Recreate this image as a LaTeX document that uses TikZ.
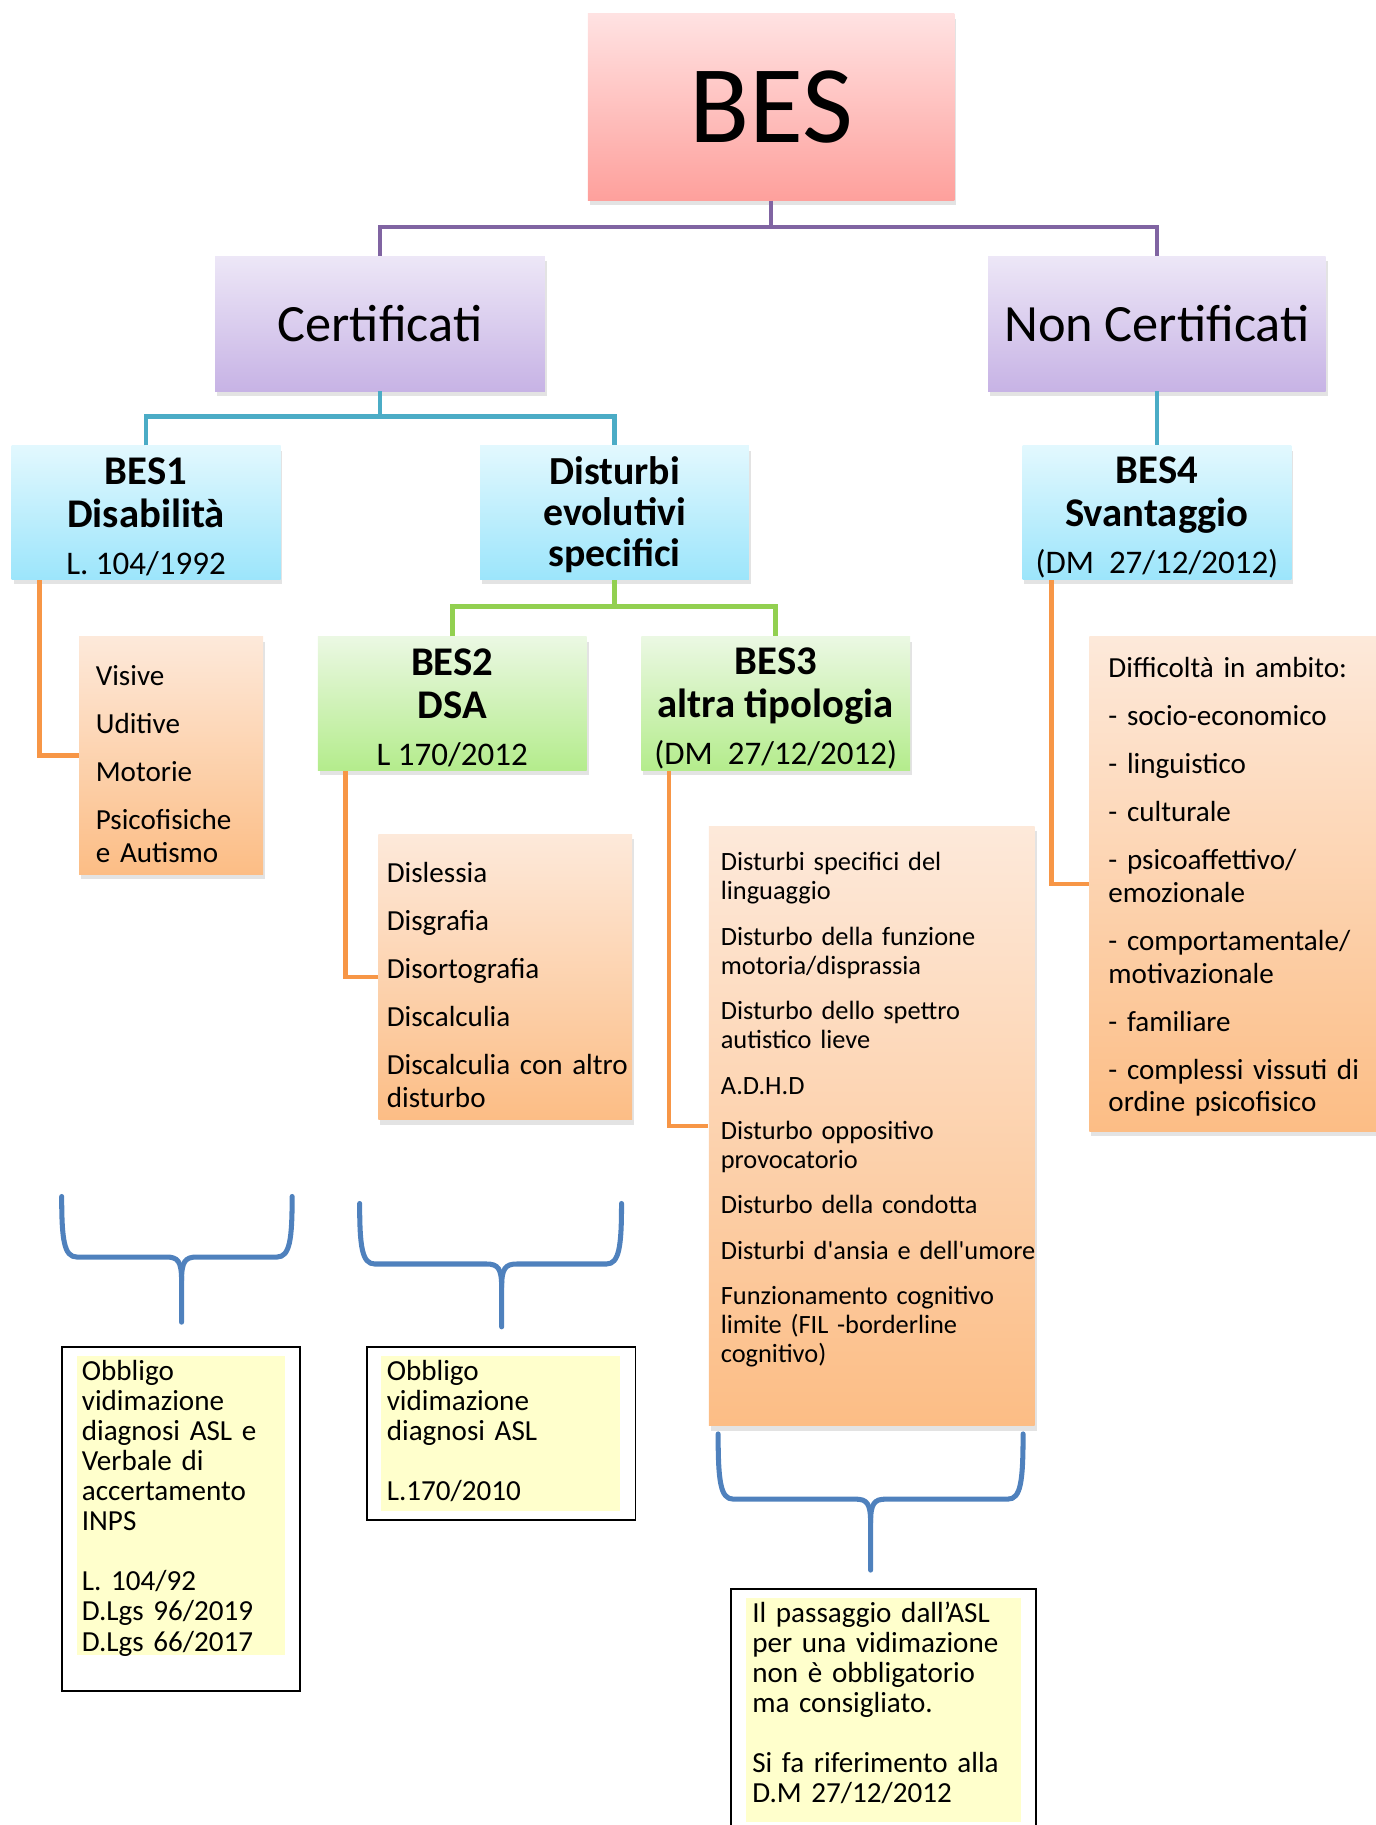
\documentclass[tikz,border=0pt]{standalone}
\usepackage{fontspec}
\setmainfont{Carlito}
\usetikzlibrary{positioning,calc,shadows}

\definecolor{pinktop}{RGB}{255,226,226}
\definecolor{pinkbot}{RGB}{254,160,156}
\definecolor{liltop}{RGB}{237,231,247}
\definecolor{lilbot}{RGB}{199,179,229}
\definecolor{bluetop}{RGB}{226,248,254}
\definecolor{bluebot}{RGB}{156,229,251}
\definecolor{greentop}{RGB}{235,248,227}
\definecolor{greenbot}{RGB}{180,236,140}
\definecolor{orantop}{RGB}{253,233,218}
\definecolor{oranbot}{RGB}{252,189,133}
\definecolor{notecol}{RGB}{255,255,204}
\definecolor{purpleline}{RGB}{128,100,162}
\definecolor{tealline}{RGB}{75,172,198}
\definecolor{greenline}{RGB}{146,208,80}
\definecolor{orangeline}{RGB}{247,150,70}
\definecolor{braceblue}{RGB}{79,129,189}

\newcommand{\topstrut}{\rule{0pt}{18.3pt}}

\tikzset{
  box/.style={rectangle, inner sep=0pt, align=center,
    drop shadow={opacity=0.22, shadow xshift=1pt, shadow yshift=-2.5pt}},
  pinkbox/.style={box, top color=pinktop, bottom color=pinkbot},
  lilacbox/.style={box, top color=liltop, bottom color=lilbot,
    minimum height=69.6pt, font=\fontsize{27}{30}\selectfont},
  bluebox/.style={box, top color=bluetop, bottom color=bluebot,
    minimum width=138.6pt, minimum height=69pt, font=\fontsize{21}{22.2}\selectfont},
  greenbox/.style={box, top color=greentop, bottom color=greenbot,
    minimum width=138.6pt, minimum height=69pt, font=\fontsize{21}{22.2}\selectfont},
  listbox/.style={box, top color=orantop, bottom color=oranbot},
  listtext/.style={anchor=base west, inner sep=0pt, text width=200pt, align=left,
    font=\fontsize{15}{16.8}\selectfont},
  notebox/.style={rectangle, draw=black, line width=0.9pt, fill=white, inner sep=0pt},
  notefill/.style={rectangle, fill=notecol, inner sep=0pt},
  notetext/.style={anchor=base west, inner sep=0pt, text width=150pt, align=left,
    font=\fontsize{15}{15.5}\selectfont},
  link/.style={line width=2.4pt},
  curly/.style={draw=braceblue, line width=2.6pt, line cap=round, line join=round},
}

\begin{document}
\begin{tikzpicture}[x=0.6pt,y=-0.6pt]
  \useasboundingbox (0,0) rectangle (1182,1568);
  \clip (0,0) rectangle (1182,1568);

  % Top
  \node[pinkbox, minimum width=189pt, minimum height=96pt,
        font=\fontsize{57}{60}\selectfont] (bes) at (662.5,92) {BES};

  % Second level
  \node[lilacbox, minimum width=170pt] (cert) at (326.5,278) {Certificati};
  \node[lilacbox, minimum width=174pt] (noncert) at (994,278) {Non Certificati};

  % Third level
  \node[bluebox] (bes1) at (125.5,440.5)
    {\topstrut\textbf{BES1}\\\textbf{Disabilità}\\[2pt]{\fontsize{17}{20}\selectfont L. 104/1992}};
  \node[bluebox, font=\fontsize{20.5}{21}\selectfont\bfseries] (dist) at (528,440.5)
    {\rule{0pt}{16.2pt}Disturbi\\evolutivi\\specifici};
  \node[bluebox] (bes4) at (994,440.5)
    {\topstrut\textbf{BES4}\\\textbf{Svantaggio}\\[2pt]{\fontsize{17}{20}\selectfont (DM\ \ 27/12/2012)}};

  \node[greenbox] (bes2) at (388.5,604.5)
    {\topstrut\textbf{BES2}\\\textbf{DSA}\\[2pt]{\fontsize{17}{20}\selectfont L 170/2012}};
  \node[greenbox] (bes3) at (666.5,604.5)
    {\topstrut\textbf{BES3}\\\textbf{altra tipologia}\\[2pt]{\fontsize{17}{20}\selectfont (DM\ \ 27/12/2012)}};

  % Lists
  \node[listbox, minimum width=94.8pt, minimum height=122.4pt] (visive) at (147,649) {};
  \node[listtext] (visivetxt) at (82,589)
    {Visive\\[8pt]Uditive\\[8pt]Motorie\\[8pt]Psicofisiche\\e Autismo};

  \node[listbox, minimum width=130.8pt, minimum height=147pt] (dsa) at (434,839.5) {};
  \node[listtext] (dsatxt) at (332,758)
    {Dislessia\\[8pt]Disgrafia\\[8pt]Disortografia\\[8pt]Discalculia\\[8pt]Discalculia con altro\\disturbo};

  \node[listbox, minimum width=168pt, minimum height=309pt] (altri) at (749,967.5) {};
  \node[listtext, font=\fontsize{13.6}{15}\selectfont] (altritxt) at (619,748)
    {Disturbi specifici del\\linguaggio\\[8.4pt]Disturbo della funzione\\motoria/disprassia\\[8.4pt]%
     Disturbo dello spettro\\autistico lieve\\[8.4pt]A.D.H.D\\[8.4pt]Disturbo oppositivo\\provocatorio\\[8.4pt]%
     Disturbo della condotta\\[8.4pt]Disturbi d\textquotesingle ansia e dell\textquotesingle umore\\[8.4pt]%
     Funzionamento cognitivo\\limite (FIL -borderline\\cognitivo)};

  \node[listbox, minimum width=152.4pt, minimum height=255pt] (svant) at (1063,759.5) {};
  \node[listtext] (svanttxt) at (952,582)
    {Difficoltà in ambito:\\[8pt]- socio-economico\\[8pt]- linguistico\\[8pt]- culturale\\[8pt]%
     - psicoaffettivo/\\emozionale\\[8pt]- comportamentale/\\motivazionale\\[8pt]- familiare\\[8pt]%
     - complessi vissuti di\\ordine psicofisico};

  % Connectors
  \coordinate (jbes) at (662.5,195);
  \draw[link, purpleline] (bes.south) -- (jbes);
  \draw[link, purpleline] (cert.north) |- (jbes) -| (noncert.north);

  \coordinate (jcert) at (326.5,358);
  \draw[link, tealline] (cert.south) -- (jcert);
  \draw[link, tealline] (bes1.north) |- (jcert) -| (dist.north);
  \draw[link, tealline] (noncert.south) -- (bes4.north);

  \coordinate (jdist) at (528,521);
  \draw[link, greenline] (dist.south) -- (jdist);
  \draw[link, greenline] (bes2.north) |- (jdist) -| (bes3.north);

  \draw[link, orangeline] ($(bes1.south west)+(24,0)$) |- (visive.west);
  \draw[link, orangeline] ($(bes2.south west)+(24,0)$) |- (dsa.west);
  \draw[link, orangeline] ($(bes3.south west)+(24,0)$) |- (altri.west);
  \draw[link, orangeline] ($(bes4.south west)+(25,0)$) |- (svant.west);

  % Braces
  \foreach \xl/\xm/\xr/\yt/\yh/\yb in {53/156/251/1028/1080/1136,
                                       309/431/534/1034/1086/1140,
                                       617/748/879/1232/1288/1349} {
    \draw[curly] (\xl,\yt) .. controls (\xl,\yh-15) and (\xl+2,\yh) .. (\xl+13,\yh)
      -- (\xm-13,\yh) .. controls (\xm-3,\yh) and (\xm,\yh+4) .. (\xm,\yh+20) -- (\xm,\yb);
    \draw[curly] (\xr,\yt) .. controls (\xr,\yh-15) and (\xr-2,\yh) .. (\xr-13,\yh)
      -- (\xm+13,\yh) .. controls (\xm+3,\yh) and (\xm,\yh+4) .. (\xm,\yh+20);
  }

  % Notes
  \node[notebox, minimum width=123pt, minimum height=177.6pt] (note1) at (155.5,1305) {};
  \node[notefill, minimum width=107.4pt, minimum height=154.2pt] (note1bg) at (155.5,1293.5) {};
  \node[notetext] (note1txt) at (70,1186)
    {Obbligo\\vidimazione\\diagnosi ASL e\\Verbale di\\accertamento\\INPS\\[15.5pt]L. 104/92\\D.Lgs 96/2019\\D.Lgs 66/2017};

  \node[notebox, minimum width=138.6pt, minimum height=89.4pt] (note2) at (430.5,1231.5) {};
  \node[notefill, minimum width=123.6pt, minimum height=79.8pt] (note2bg) at (430,1231.5) {};
  \node[notetext] (note2txt) at (332,1186)
    {Obbligo\\vidimazione\\diagnosi ASL\\[15.5pt]L.170/2010};

  \node[notebox, minimum width=157.2pt, minimum height=129pt] (note3) at (759,1472.5) {};
  \node[notefill, minimum width=141.6pt, minimum height=115.2pt] (note3bg) at (759,1469) {};
  \node[notetext] (note3txt) at (646,1394)
    {Il passaggio dall’ASL\\per una vidimazione\\non è obbligatorio\\ma consigliato.\\[15.5pt]Si fa riferimento alla\\D.M 27/12/2012};
\end{tikzpicture}
\end{document}
